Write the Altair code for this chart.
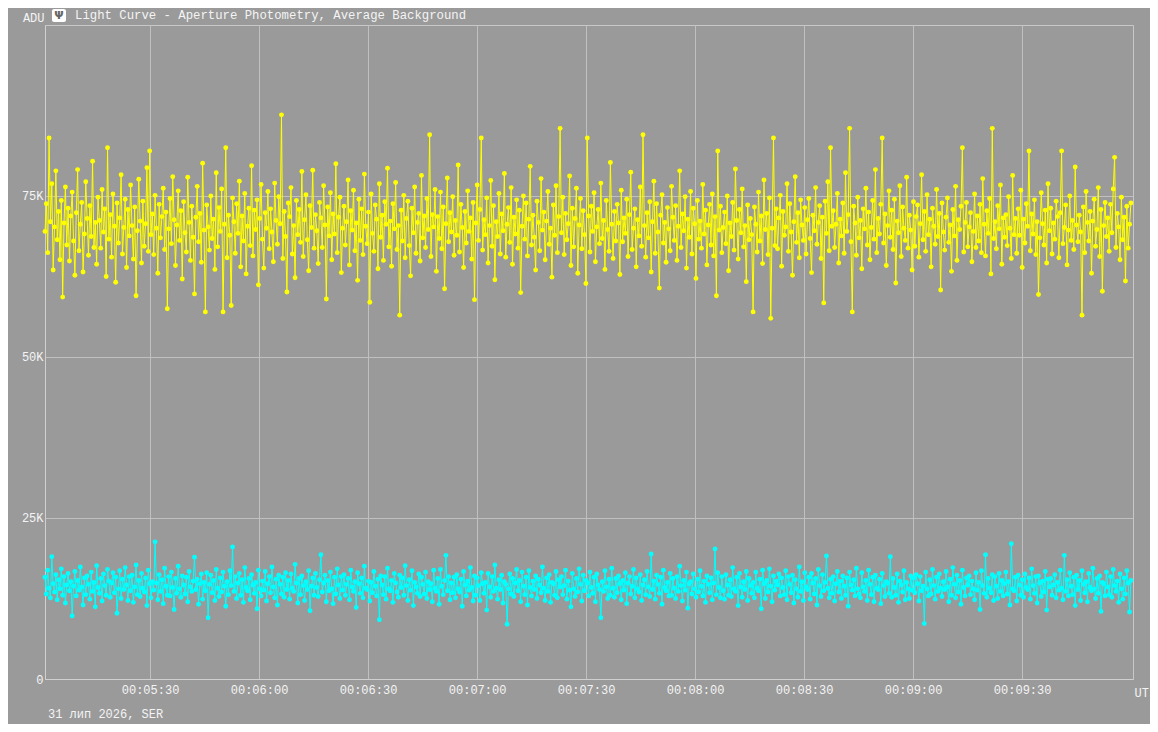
import altair as alt
import pandas as pd

# ---- data (ADU, thousands), one value per frame ----
star_k = [
69.5, 73.8, 66.2, 84.0, 71.0, 76.9, 63.5, 70.2, 78.9, 68.2, 72.6, 65.1, 74.3, 59.3, 70.8, 76.4, 67.4, 73.1, 64.9, 71.9,
75.6, 68.0, 62.7, 72.4, 79.1, 66.5, 70.6, 74.0, 63.2, 69.1, 77.2, 71.5, 65.8, 73.5, 68.7, 80.4, 67.0, 70.9, 64.4, 74.8,
71.2, 66.9, 76.0, 69.4, 73.0, 62.5, 82.5, 68.3, 72.1, 65.5, 75.3, 70.3, 61.6, 73.9, 67.7, 71.6, 78.3, 66.0, 70.1, 74.5,
63.9, 72.9, 68.8, 76.7, 70.4, 65.2, 73.3, 59.5, 69.6, 77.6, 71.1, 64.6, 74.2, 67.2, 70.7, 79.4, 66.4, 82.0, 69.0, 72.2,
65.9, 75.1, 70.0, 63.0, 73.7, 68.5, 71.8, 76.2, 66.7, 72.5, 57.5, 69.9, 74.6, 67.6, 78.0, 71.3, 64.2, 70.5, 75.8, 68.1,
72.7, 62.1, 74.1, 69.3, 66.3, 77.9, 70.9, 65.0, 73.4, 68.6, 59.8, 71.7, 76.5, 67.9, 72.3, 64.7, 80.1, 69.7, 57.0, 73.6,
70.2, 66.6, 75.0, 68.4, 71.4, 63.6, 78.6, 67.1, 73.2, 69.5, 76.1, 57.0, 70.6, 82.5, 65.4, 72.0, 68.9, 58.0, 74.7, 71.0,
66.1, 73.8, 69.2, 77.3, 64.0, 71.9, 68.0, 75.4, 62.9, 70.3, 73.1, 67.3, 79.7, 65.7, 72.8, 69.8, 74.4, 61.2, 71.5, 76.8,
68.3, 63.8, 72.4, 70.0, 75.7, 66.8, 73.0, 69.4, 64.8, 77.0, 71.2, 67.5, 74.9, 70.7, 87.6, 65.3, 72.6, 68.7, 60.1, 73.9,
71.8, 76.3, 66.0, 70.4, 62.3, 74.3, 69.0, 72.9, 67.8, 78.8, 65.6, 71.3, 75.2, 68.2, 63.4, 73.5, 70.1, 79.0, 66.9, 72.1,
69.6, 64.5, 74.0, 71.6, 67.0, 76.6, 70.5, 59.0, 73.3, 68.8, 75.5, 65.1, 72.2, 69.1, 80.0, 66.2, 71.7, 74.8, 63.1, 70.0,
73.4, 67.4, 71.0, 77.5, 64.3, 72.7, 69.7, 75.9, 66.5, 70.8, 61.9, 74.5, 68.1, 73.0, 65.9, 78.4, 70.3, 67.6, 72.5, 58.5,
75.3, 69.2, 66.4, 73.6, 71.4, 63.7, 76.9, 68.6, 72.0, 65.0, 74.1, 70.6, 79.3, 67.1, 71.1, 64.1, 73.8, 69.9, 77.1, 66.7,
70.4, 56.5, 72.8, 68.0, 75.1, 65.4, 71.5, 74.2, 67.3, 62.6, 73.1, 69.3, 76.4, 66.1, 70.9, 72.3, 64.9, 78.2, 68.5, 71.9,
67.0, 74.6, 69.8, 84.5, 65.6, 72.1, 70.2, 76.0, 63.3, 71.8, 68.4, 75.6, 66.8, 73.3, 60.6, 70.7, 77.8, 67.9, 72.4, 69.4,
74.9, 65.8, 71.2, 68.9, 79.8, 66.3, 73.7, 70.1, 63.9, 72.6, 67.7, 75.8, 69.5, 71.6, 65.2, 74.0, 58.9, 70.8, 76.7, 68.1,
72.9, 84.0, 66.6, 71.3, 69.0, 74.7, 64.6, 70.4, 77.4, 67.2, 73.5, 62.0, 71.0, 68.7, 75.4, 66.0, 72.2, 69.6, 78.5, 65.5,
70.6, 73.2, 67.8, 76.3, 64.4, 71.7, 69.1, 74.4, 66.9, 72.8, 60.0, 70.3, 75.0, 68.3, 73.9, 65.7, 71.4, 79.6, 67.4, 72.0,
68.6, 63.5, 74.2, 70.9, 66.5, 77.7, 69.7, 72.5, 65.1, 71.1, 75.7, 67.5, 70.0, 62.4, 73.6, 68.9, 76.6, 66.2, 71.8, 85.5,
69.3, 74.8, 65.9, 72.3, 68.2, 70.7, 78.1, 64.2, 73.1, 67.1, 71.5, 76.2, 63.0, 70.5, 74.6, 66.8, 72.7, 69.0, 61.4, 84.0,
71.9, 66.3, 73.4, 69.5, 75.5, 64.8, 70.2, 72.9, 67.6, 77.0, 68.4, 71.2, 63.6, 74.3, 69.8, 66.4, 80.2, 70.6, 65.3, 72.6,
68.0, 73.7, 70.8, 62.8, 75.9, 67.9, 71.6, 69.2, 74.5, 65.6, 72.1, 78.7, 66.7, 70.0, 73.0, 64.0, 71.3, 68.8, 76.4, 67.2,
84.5, 70.4, 65.5, 72.4, 68.5, 74.1, 63.2, 71.0, 77.3, 66.1, 73.8, 69.4, 60.7, 72.0, 75.2, 67.7, 70.9, 64.7, 73.2, 69.9,
66.5, 76.5, 71.7, 68.1, 73.5, 65.0, 70.3, 78.9, 67.0, 72.2, 69.6, 74.9, 63.8, 71.4, 68.6, 75.7, 66.0, 73.1, 70.7, 62.2,
74.3, 68.3, 71.1, 66.9, 76.8, 69.1, 72.8, 64.3, 70.5, 73.7, 67.4, 75.3, 65.7, 71.8, 59.5, 82.0, 69.7, 73.4, 66.2, 70.1,
72.5, 67.6, 75.0, 63.4, 70.8, 68.7, 74.0, 66.6, 79.2, 71.2, 65.2, 72.9, 69.3, 76.1, 67.1, 70.4, 61.7, 73.6, 68.2, 71.5,
69.0, 57.0, 73.3, 70.6, 66.3, 75.6, 68.0, 71.9, 64.5, 77.5, 69.8, 72.3, 65.9, 74.7, 56.0, 70.0, 84.0, 67.3, 73.0, 66.8,
71.6, 75.1, 64.1, 72.6, 68.9, 70.2, 76.9, 66.4, 73.8, 69.4, 62.7, 71.0, 78.0, 67.8, 72.4, 65.4, 74.4, 70.5, 68.1, 73.2,
66.0, 71.3, 74.6, 68.4, 63.1, 72.0, 69.6, 76.3, 67.5, 70.9, 73.5, 65.3, 71.7, 58.4, 74.2, 69.2, 77.2, 66.5, 82.5, 70.3,
72.7, 67.0, 70.6, 75.4, 64.6, 71.4, 68.8, 73.9, 66.1, 78.6, 69.5, 72.1, 85.5, 67.9, 57.0, 73.4, 70.8, 65.8, 74.8, 68.5,
71.2, 63.7, 73.0, 69.9, 76.2, 67.4, 72.5, 65.1, 70.1, 74.3, 68.3, 79.1, 66.2, 71.5, 69.1, 73.7, 84.0, 67.7, 72.2, 64.2,
70.4, 75.8, 68.6, 72.8, 66.7, 74.5, 61.5, 71.1, 69.3, 76.6, 65.6, 73.3, 70.0, 68.1, 77.9, 66.9, 72.0, 69.7, 63.5, 74.1,
67.2, 71.8, 73.6, 65.5, 70.7, 78.3, 68.2, 72.6, 66.4, 75.2, 69.0, 71.4, 64.0, 73.1, 70.3, 67.5, 76.0, 68.7, 72.3, 60.4,
73.9, 69.4, 66.6, 71.7, 74.7, 67.8, 70.5, 63.3, 72.9, 68.8, 76.5, 65.0, 71.3, 69.8, 73.4, 82.5, 66.3, 70.9, 74.0, 67.1,
70.2, 72.4, 64.8, 69.5, 75.3, 67.0, 71.9, 68.0, 73.7, 66.2, 77.7, 70.6, 65.7, 72.7, 69.2, 74.6, 62.9, 85.5, 68.4, 71.0,
66.8, 73.5, 69.9, 76.7, 64.4, 71.6, 68.6, 72.1, 67.3, 74.9, 70.0, 65.3, 78.2, 69.0, 71.5, 66.1, 73.0, 68.9, 75.9, 63.9,
71.4, 67.7, 73.8, 70.3, 82.0, 66.5, 72.2, 69.1, 74.4, 65.9, 71.0, 59.7, 68.5, 75.5, 70.7, 67.4, 72.8, 64.6, 76.9, 69.6,
73.1, 66.0, 70.8, 68.3, 74.2, 71.8, 65.4, 72.4, 82.0, 67.6, 70.1, 73.6, 64.3, 69.7, 75.0, 68.1, 71.2, 66.7, 79.5, 70.5,
67.9, 72.0, 69.4, 56.5, 73.3, 66.2, 75.7, 70.9, 68.0, 72.6, 63.0, 71.1, 74.5, 67.2, 69.8, 76.3, 65.6, 72.9, 60.2, 70.4,
74.0, 68.7, 71.6, 66.4, 73.7, 69.3, 76.1, 81.0, 67.0, 72.3, 70.2, 65.1, 74.8, 68.2, 71.7, 61.8, 73.4, 66.9, 70.6, 73.9,
]

background_k = [
15.8, 13.2, 16.9, 14.1, 12.6, 19.0, 14.8, 13.5, 16.2, 12.3, 15.4, 14.0, 17.1, 13.0, 15.9, 11.8, 14.6, 16.4, 13.7, 15.1,
9.8, 14.4, 16.7, 12.9, 15.3, 13.8, 17.4, 14.3, 11.5, 15.7, 13.1, 16.0, 14.7, 12.4, 16.6, 13.6, 15.0, 11.2, 17.6, 14.2,
13.3, 15.6, 12.1, 16.3, 14.5, 13.0, 17.0, 15.2, 12.7, 14.9, 16.5, 13.4, 15.8, 10.2, 14.0, 16.8, 12.5, 15.5, 13.9, 17.3,
14.6, 12.2, 15.9, 13.7, 16.1, 11.9, 14.3, 17.7, 13.1, 15.3, 12.8, 16.4, 14.1, 13.5, 15.7, 11.4, 16.9, 14.8, 12.6, 15.1,
13.8, 21.3, 14.9, 12.3, 16.2, 13.6, 15.4, 11.7, 17.2, 14.4, 13.0, 15.9, 12.9, 16.6, 14.2, 10.8, 15.6, 13.3, 17.5, 14.0,
12.7, 16.0, 14.6, 13.2, 15.8, 12.0, 16.7, 14.3, 13.6, 15.2, 18.9, 13.9, 15.5, 11.6, 14.8, 16.3, 12.4, 15.0, 13.7, 16.5,
9.5, 14.7, 16.1, 13.4, 15.3, 12.2, 17.0, 14.1, 12.8, 15.7, 13.5, 16.6, 14.4, 11.3, 15.1, 13.1, 16.8, 14.5, 20.5, 13.6,
15.9, 12.5, 14.9, 16.4, 13.0, 15.4, 11.9, 17.3, 14.2, 13.7, 15.6, 12.3, 16.2, 14.6, 13.3, 15.0, 10.9, 16.9, 14.0, 12.9,
15.2, 13.8, 16.7, 12.1, 14.8, 15.9, 13.4, 17.4, 14.3, 12.6, 15.5, 11.5, 16.1, 14.7, 13.2, 15.8, 12.7, 16.5, 13.9, 15.3,
12.4, 16.3, 14.1, 13.6, 17.8, 14.9, 11.8, 15.6, 13.1, 16.0, 14.5, 12.2, 15.1, 13.9, 16.8, 10.6, 14.4, 15.7, 13.0, 16.4,
14.2, 12.8, 15.4, 19.3, 13.5, 14.9, 16.1, 12.0, 15.3, 13.7, 16.6, 14.0, 11.7, 15.8, 13.2, 17.1, 14.6, 12.5, 15.9, 13.8,
16.2, 13.0, 14.7, 15.6, 12.3, 16.9, 14.3, 13.6, 15.1, 11.1, 16.5, 14.8, 13.3, 15.7, 12.6, 17.5, 14.1, 13.9, 15.2, 12.1,
15.0, 13.4, 16.7, 14.4, 12.9, 15.5, 9.2, 16.0, 14.6, 13.1, 15.9, 12.4, 17.2, 14.0, 13.7, 15.3, 11.9, 16.4, 14.9, 13.5,
12.7, 16.1, 14.2, 15.7, 13.0, 17.6, 14.5, 12.2, 15.4, 13.8, 16.8, 11.4, 15.0, 14.3, 13.3, 16.3, 12.8, 15.8, 14.7, 13.2,
16.6, 12.5, 15.1, 13.9, 14.8, 12.0, 16.9, 14.1, 13.6, 15.6, 11.6, 17.0, 14.4, 13.1, 15.3, 19.2, 13.7, 15.9, 12.3, 14.9,
13.4, 15.8, 12.6, 16.2, 14.0, 13.5, 15.5, 11.3, 16.7, 14.6, 12.9, 15.2, 13.8, 17.3, 14.2, 12.1, 16.0, 13.0, 15.7, 14.5,
12.2, 16.5, 14.8, 13.3, 15.0, 10.7, 16.4, 14.3, 12.7, 15.9, 13.6, 17.7, 14.1, 12.4, 15.4, 13.9, 16.1, 11.8, 15.1, 14.7,
8.5, 14.0, 16.3, 13.2, 15.6, 12.8, 14.9, 17.0, 13.7, 15.3, 12.0, 16.6, 14.4, 13.1, 15.8, 11.5, 16.8, 14.2, 12.9, 15.2,
13.9, 16.0, 12.5, 15.5, 14.6, 13.4, 17.4, 14.1, 12.2, 15.7, 13.6, 16.2, 11.9, 15.0, 14.8, 13.0, 16.7, 12.6, 15.4, 14.3,
15.9, 13.1, 14.5, 16.9, 12.4, 15.2, 13.8, 11.2, 16.4, 14.0, 12.8, 15.6, 13.5, 17.1, 14.7, 12.1, 16.1, 13.7, 15.3, 14.9,
12.9, 16.6, 14.2, 13.3, 15.8, 12.0, 16.3, 14.6, 13.9, 9.5, 15.1, 13.6, 16.8, 14.3, 12.5, 15.5, 13.0, 17.2, 14.1, 12.7,
15.6, 13.4, 16.0, 14.8, 12.3, 15.3, 13.8, 16.5, 11.7, 14.9, 15.9, 13.2, 14.4, 17.0, 12.6, 15.7, 14.0, 13.5, 16.2, 12.2,
14.6, 15.4, 13.1, 16.7, 14.3, 12.8, 19.4, 13.9, 15.2, 12.4, 16.1, 14.7, 13.3, 15.8, 11.6, 16.9, 14.2, 13.7, 15.0, 12.9,
16.4, 13.0, 15.6, 14.1, 12.5, 15.9, 13.6, 17.5, 14.5, 12.1, 15.3, 13.8, 16.6, 11.0, 14.8, 15.1, 13.2, 16.3, 14.0, 12.7,
15.5, 13.5, 16.8, 14.4, 12.9, 15.2, 11.9, 16.0, 14.7, 13.4, 15.7, 12.3, 14.9, 20.2, 13.1, 16.5, 14.2, 12.6, 15.9, 13.7,
12.4, 16.2, 14.6, 13.0, 15.4, 12.8, 17.3, 14.0, 13.6, 15.8, 11.4, 16.4, 14.3, 12.7, 15.1, 13.9, 16.7, 12.2, 15.6, 14.5,
13.3, 15.0, 12.6, 16.6, 14.1, 13.7, 15.5, 10.9, 16.9, 14.8, 12.5, 15.3, 13.5, 17.1, 14.4, 12.0, 16.0, 13.8, 15.2, 14.6,
16.3, 12.9, 15.7, 14.2, 13.1, 16.8, 12.3, 15.9, 14.7, 13.4, 16.1, 11.8, 15.4, 14.0, 12.7, 17.4, 13.6, 15.1, 12.2, 16.5,
14.3, 13.9, 15.8, 12.4, 16.4, 14.9, 13.2, 15.6, 11.5, 17.0, 14.5, 12.8, 16.2, 13.7, 15.0, 19.1, 14.1, 12.6, 15.5, 13.3,
15.9, 12.1, 14.8, 16.7, 13.5, 15.2, 12.5, 16.0, 14.4, 13.0, 15.7, 11.3, 16.6, 14.6, 13.8, 15.4, 12.9, 17.2, 14.0, 13.2,
12.6, 16.5, 14.3, 13.6, 15.3, 12.2, 16.9, 14.7, 13.1, 15.8, 12.0, 16.1, 14.1, 13.9, 15.5, 11.7, 16.4, 14.5, 12.8, 15.1,
14.9, 13.3, 19.0, 12.7, 15.6, 14.2, 13.0, 16.3, 11.9, 15.2, 14.6, 13.5, 16.8, 12.3, 15.0, 14.0, 12.5, 16.0, 13.8, 15.7,
13.4, 16.2, 14.8, 12.1, 15.9, 13.7, 14.4, 8.6, 16.6, 14.0, 12.9, 15.4, 13.2, 17.0, 14.5, 12.4, 15.8, 13.6, 16.3, 14.1,
12.8, 15.1, 13.9, 16.7, 14.3, 12.0, 15.5, 13.0, 17.3, 14.7, 12.6, 16.1, 13.5, 15.3, 11.6, 16.9, 14.2, 12.9, 15.7, 14.6,
16.0, 13.1, 15.2, 14.0, 12.3, 16.5, 13.8, 15.0, 10.8, 16.8, 14.5, 13.3, 19.3, 12.7, 15.6, 14.1, 13.4, 16.2, 12.2, 15.9,
14.4, 12.5, 16.4, 13.6, 15.3, 12.9, 14.8, 16.6, 13.2, 15.1, 11.5, 21.0, 14.0, 13.7, 15.8, 12.1, 16.1, 14.6, 13.0, 15.4,
12.7, 16.3, 14.2, 13.9, 15.7, 12.4, 17.1, 14.5, 13.3, 15.9, 11.8, 16.0, 14.9, 12.8, 15.2, 13.5, 16.7, 10.7, 15.5, 14.3,
15.6, 13.0, 14.6, 16.2, 12.6, 15.0, 13.8, 16.9, 14.1, 12.3, 19.2, 13.6, 15.4, 12.9, 16.5, 14.4, 13.1, 15.8, 11.4, 16.1,
13.9, 15.3, 12.2, 16.8, 14.7, 13.4, 15.1, 12.0, 16.4, 14.2, 13.7, 17.2, 14.0, 12.5, 15.6, 13.3, 16.0, 10.5, 15.0, 14.8,
12.9, 16.6, 14.3, 13.1, 15.9, 12.7, 17.0, 14.5, 13.6, 15.2, 11.9, 16.3, 14.0, 12.4, 15.7, 13.2, 16.8, 14.9, 10.4, 15.3,
]

series_names = ["Star", "Background"]
series_colors = ["#ffff00", "#00ffff"]
y_ticks = [0, 25000, 50000, 75000]
x_tick_labels = ["00:05:30", "00:06:00", "00:06:30", "00:07:00", "00:07:30",
                 "00:08:00", "00:08:30", "00:09:00", "00:09:30"]
title_text = "Light Curve - Aperture Photometry, Average Background"
date_text = "31 лип 2026, SER"

# ---- build table: frames evenly spaced between first and last exposure ----
t0 = pd.Timestamp("2026-07-31T00:05:01.1Z")
t1 = pd.Timestamp("2026-07-31T00:10:00.5Z")
n = len(star_k)
dt = (t1 - t0) / (n - 1)
times_ms = [int((t0 + i * dt).value // 1_000_000) for i in range(n)]

rows = []
for name, vals in zip(series_names, [star_k, background_k]):
    for tm, v in zip(times_ms, vals):
        rows.append({"t": tm, "adu": v * 1000, "series": name})
df = pd.DataFrame(rows)

x_tick_vals = [int(pd.Timestamp("2026-07-31T" + s + "Z").value // 1_000_000) for s in x_tick_labels]
x_domain = [int(t0.value // 1_000_000), int(t1.value // 1_000_000)]

W, H = 1088, 654
FONT = "Liberation Mono"
TXT = "#f4f4f4"

x_enc = alt.X("t:T",
              scale=alt.Scale(type="utc", domain=x_domain, nice=False),
              axis=alt.Axis(values=x_tick_vals, labelExpr="utcFormat(datum.value, '%H:%M:%S')",
                            ticks=False, labelPadding=5, title="UT", titleAngle=0,
                            titleAlign="left", titleBaseline="middle", titleX=W + 1, titleY=13,
                            titleFontWeight="normal", labelFlush=False))
y_enc = alt.Y("adu:Q",
              scale=alt.Scale(domain=[0, 101550], nice=False, zero=True),
              axis=alt.Axis(values=y_ticks,
                            labelExpr="datum.value == 0 ? '0' : (datum.value / 1000) + 'K'",
                            ticks=False, labelPadding=2, title="ADU", titleAngle=0,
                            titleAlign="right", titleBaseline="middle", titleX=-1, titleY=-8,
                            titleFontWeight="normal"))

lines = alt.Chart(df).mark_line(
    strokeWidth=1,
    point=alt.OverlayMarkDef(filled=True, size=24, opacity=1),
).encode(
    x=x_enc,
    y=y_enc,
    color=alt.Color("series:N", scale=alt.Scale(domain=series_names, range=series_colors), legend=None),
    detail="series:N",
)

deco = pd.DataFrame({"label": [title_text]})
title_mark = alt.Chart(deco).mark_text(
    align="left", baseline="middle", font=FONT, fontSize=12.3, color=TXT
).encode(x=alt.value(30), y=alt.value(-10), text="label:N")

icon = alt.Chart(deco).mark_rect(color="#ffffff", cornerRadius=2).encode(
    x=alt.value(7), x2=alt.value(21), y=alt.value(-16), y2=alt.value(-3))
icon_glyph = alt.Chart(pd.DataFrame({"g": ["Ψ"]})).mark_text(
    align="center", baseline="middle", font="DejaVu Sans", fontSize=11, color="#666666", fontWeight="bold"
).encode(x=alt.value(14), y=alt.value(-9.5), text="g:N")

date_mark = alt.Chart(pd.DataFrame({"d": [date_text]})).mark_text(
    align="left", baseline="middle", font=FONT, fontSize=12, color=TXT
).encode(x=alt.value(3), y=alt.value(H + 35), text="d:N")

chart = alt.layer(lines, title_mark, icon, icon_glyph, date_mark).properties(
    width=W, height=H,
    background="#9a9a9a",
    padding={"left": 37, "top": 17, "right": 17, "bottom": 45},
    autosize=alt.AutoSizeParams(type="none"),
).configure_view(
    stroke="#c8c8c8", strokeWidth=1, fill="#9a9a9a"
).configure_axis(
    grid=True, gridColor="#c0c0c0", gridWidth=1,
    domainColor="#d0d0d0", domainWidth=1,
    labelFont=FONT, labelFontSize=12, labelColor=TXT,
    titleFont=FONT, titleFontSize=12, titleColor=TXT,
)

chart.save("out.html", embed_options={"renderer": "svg", "actions": False})
